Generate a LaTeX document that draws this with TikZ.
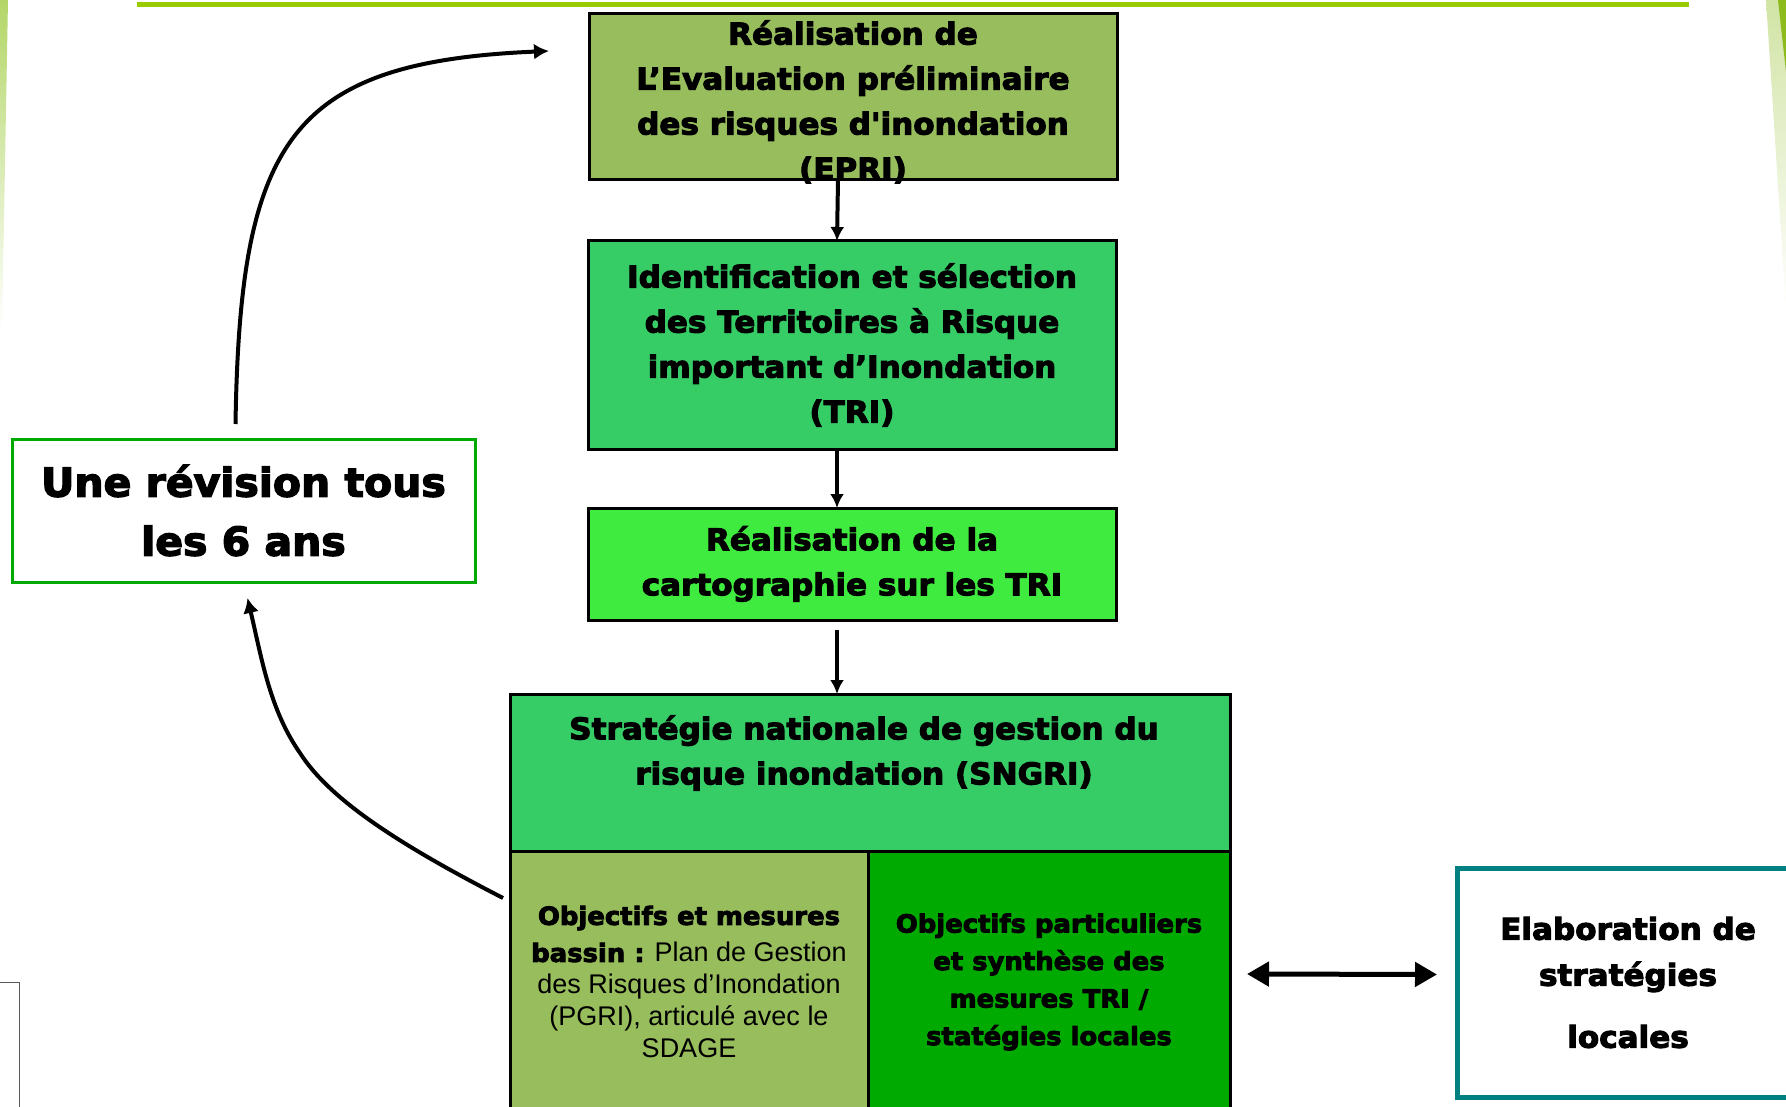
\documentclass[tikz,border=0pt]{standalone}
\usepackage{fontspec}
\setmainfont{Liberation Sans}
\newfontfamily\heavyfont{DejaVu Sans}[BoldFeatures={FakeBold=3.5,FakeStretch=1.035}]
\newcommand{\hv}{\heavyfont\bfseries}
\usetikzlibrary{arrows.meta, calc}
\tikzset{>={Latex[width=14pt,length=14pt]}}
\definecolor{linegreen}{HTML}{99CC00}
\definecolor{olivbox}{HTML}{98BD5C}
\definecolor{midgreen}{HTML}{36CC66}
\definecolor{litgreen}{HTML}{40EB40}
\definecolor{darkgr}{HTML}{00AA00}
\definecolor{tealbox}{HTML}{008080}
\definecolor{edgegreen}{HTML}{B3D667}
\definecolor{wedgegreen}{HTML}{8DBB1E}

\begin{document}
\begin{tikzpicture}[x=1pt, y=-1pt,
    box/.style = {draw, line width=3pt, align=center, inner sep=0pt, outer sep=0pt,
        font=\hv\fontsize{30}{45}\selectfont},
    txt/.style = {align=center, inner sep=0pt, font=\hv\fontsize{30}{45}\selectfont},
    flow/.style = {->, line width=4pt},
    curve/.style = {->, line width=4pt, >={Latex[width=16pt,length=15pt]}},
    dbl/.style = {<->, line width=5pt, >={Triangle[width=24pt,length=22pt]}}
  ]
  \useasboundingbox (0,0) rectangle (1786,1107);
  % slide decoration
  \shade[top color=edgegreen, bottom color=white] (0,0) -- (8,0) -- (2,330) -- (0,330) -- cycle;
  \shade[top color=wedgegreen!40, bottom color=white] (1766,0) -- (1786,0) -- (1786,310) -- cycle;
  \fill[wedgegreen] (1778,0) -- (1786,0) -- (1786,72) -- cycle;
  \fill[linegreen] (137,2.5) rectangle (1689,7.5);
  \draw[gray!70!black, line width=1pt] (-2,982) -- (19,982) -- (19,1112);

  \node[box, fill=olivbox, minimum width=528, minimum height=166] (EPRI) at (853,97) {};
  \node[txt] (EPRIt) at (853,102) {Réalisation de\\L’Evaluation préliminaire\\des risques d'inondation\\(EPRI)};
  \node[box, fill=midgreen, minimum width=528, minimum height=208] (TRI) at (852,345)
    {Identification et sélection\\des Territoires à Risque\\important d’Inondation\\(TRI)};
  \node[box, fill=litgreen, minimum width=528, minimum height=112] (CARTO) at (852,564)
    {Réalisation de la\\cartographie sur les TRI};

  \node[box, fill=midgreen, minimum width=720, minimum height=157, anchor=north west] (SNGRI) at (510,694) {};
  \node[txt] (SNGRIt) at (864,753) {Stratégie nationale de gestion du\\risque inondation (SNGRI)};
  \node[box, fill=olivbox, minimum width=358, minimum height=262, anchor=north west,
    font=\fontsize{27}{32}\selectfont] (PGRI) at (SNGRI.south west)
    {{\hv\fontsize{25}{32}\selectfont Objectifs et mesures}\\[5pt]
     {\hv\fontsize{25}{32}\selectfont bassin :} Plan de Gestion\\des Risques d’Inondation\\(PGRI), articulé avec le\\SDAGE};
  \node[box, fill=darkgr, minimum width=362, minimum height=262, anchor=north west,
    font=\hv\fontsize{25}{37.5}\selectfont] (PART) at (PGRI.north east)
    {Objectifs particuliers\\et synthèse des\\mesures TRI /\\statégies locales};

  \node[box, draw=darkgr, fill=white, minimum width=463, minimum height=143,
    font=\hv\fontsize{39.6}{59}\selectfont] (REV) at (243.5,510.5) {Une révision tous\\les 6 ans};
  \node[box, draw=tealbox, line width=5pt, fill=white, minimum width=342, minimum height=229,
    font=\hv\fontsize{30}{46}\selectfont] (ELAB) at (1628,982.5) {Elaboration de\\stratégies\\[16pt]locales};

  \foreach \a/\b in {EPRI/TRI, TRI/CARTO}
    \draw[flow] ([xshift=-15pt]\a.south) -- ([xshift=-15pt]\b.north);
  \draw[flow] ([xshift=-15pt,yshift=-10pt]CARTO.south) -- ([xshift=-33pt]SNGRI.north);

  \draw[curve] ([xshift=-8pt,yshift=15pt]REV.north) .. controls (240,140) and (290,62)
    .. ([xshift=-40pt,yshift=46pt]EPRI.west);
  \draw[curve] ([xshift=-7pt,yshift=84pt]PGRI.west) .. controls (400,845) and (330,800) .. (300,753)
    .. controls (270,710) and (262,660) .. ([xshift=4pt,yshift=-16pt]REV.south);
  \draw[dbl] ([xshift=17pt,yshift=8pt]PART.east) -- ([xshift=-20pt,yshift=8pt]ELAB.west);
\end{tikzpicture}
\end{document}
